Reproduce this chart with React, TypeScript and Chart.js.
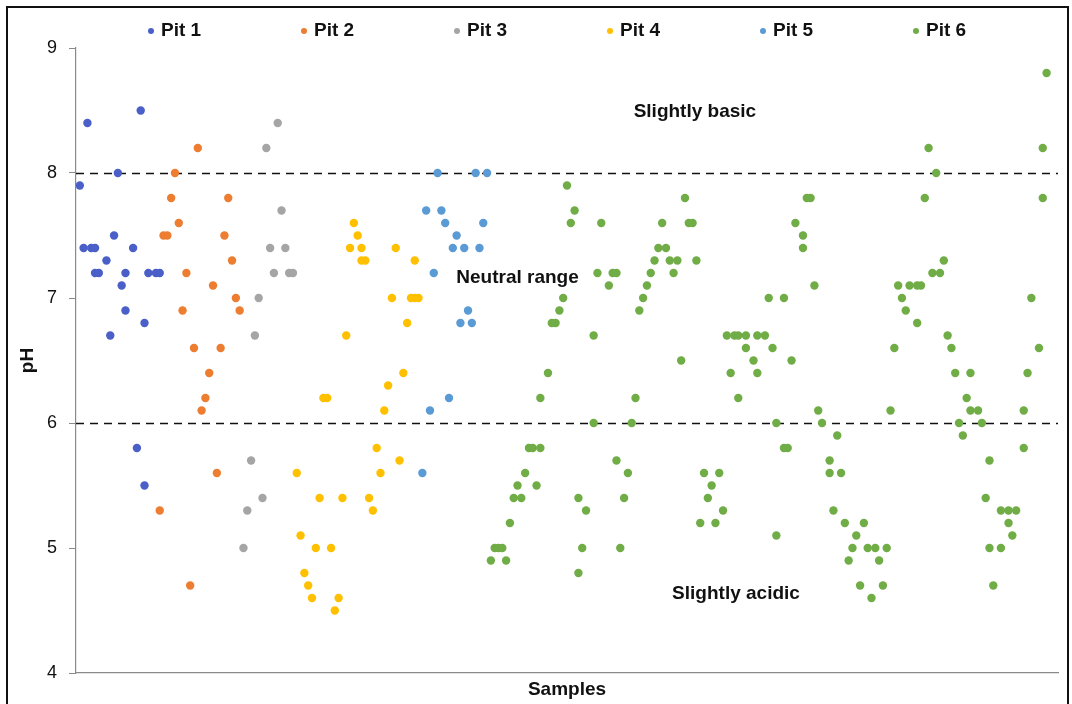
import React, { useEffect, useRef } from "react";
import { Chart, registerables } from "chart.js";

Chart.register(...registerables);

const seriesNames = ["Pit 1", "Pit 2", "Pit 3", "Pit 4", "Pit 5", "Pit 6"];
const seriesColors = ["#4A5FC8", "#ED7D31", "#A5A5A5", "#FFC000", "#5B9BD5", "#70AD47"];

// [sample number, pH]
const pit1: [number, number][] = [
  [1, 7.9], [2, 7.4], [3, 8.4], [4, 7.4], [5, 7.4], [5, 7.2], [6, 7.2], [8, 7.3], [9, 6.7], [10, 7.5],
  [11, 8.0], [12, 7.1], [13, 6.9], [13, 7.2], [15, 7.4], [16, 5.8], [17, 8.5], [18, 5.5], [18, 6.8],
  [19, 7.2], [21, 7.2], [22, 7.2],
];
const pit2: [number, number][] = [
  [22, 5.3], [23, 7.5], [24, 7.5], [25, 7.8], [26, 8.0], [27, 7.6], [28, 6.9], [29, 7.2], [30, 4.7],
  [31, 6.6], [32, 8.2], [33, 6.1], [34, 6.2], [35, 6.4], [36, 7.1], [37, 5.6], [38, 6.6], [39, 7.5],
  [40, 7.8], [41, 7.3], [42, 7.0], [43, 6.9],
];
const pit3: [number, number][] = [
  [44, 5.0], [45, 5.3], [46, 5.7], [47, 6.7], [48, 7.0], [49, 5.4], [50, 8.2], [51, 7.4], [52, 7.2],
  [53, 8.4], [54, 7.7], [55, 7.4], [56, 7.2], [57, 7.2],
];
const pit4: [number, number][] = [
  [58, 5.6], [59, 5.1], [60, 4.8], [61, 4.7], [62, 4.6], [63, 5.0], [64, 5.4], [65, 6.2], [66, 6.2],
  [67, 5.0], [68, 4.5], [69, 4.6], [70, 5.4], [71, 6.7], [72, 7.4], [73, 7.6], [74, 7.5], [75, 7.4],
  [75, 7.3], [76, 7.3], [77, 5.4], [78, 5.3], [79, 5.8], [80, 5.6], [81, 6.1], [82, 6.3], [83, 7.0],
  [84, 7.4], [85, 5.7], [86, 6.4], [87, 6.8], [88, 7.0], [89, 7.3], [89, 7.0], [90, 7.0],
];
const pit5: [number, number][] = [
  [91, 5.6], [92, 7.7], [93, 6.1], [94, 7.2], [95, 8.0], [96, 7.7], [97, 7.6], [98, 6.2], [99, 7.4],
  [100, 7.5], [101, 6.8], [102, 7.4], [103, 6.9], [104, 6.8], [105, 8.0], [106, 7.4], [107, 7.6], [108, 8.0],
];
const pit6: [number, number][] = [
  [109, 4.9], [110, 5.0], [111, 5.0], [112, 5.0], [113, 4.9], [114, 5.2], [115, 5.4], [116, 5.5], [117, 5.4],
  [118, 5.6], [119, 5.8], [120, 5.8], [121, 5.5], [122, 5.8], [122, 6.2], [124, 6.4], [125, 6.8], [126, 6.8],
  [127, 6.9], [128, 7.0], [129, 7.9], [130, 7.6], [131, 7.7], [132, 4.8], [132, 5.4], [133, 5.0], [134, 5.3],
  [136, 6.0], [136, 6.7], [137, 7.2], [138, 7.6], [140, 7.1], [141, 7.2], [142, 7.2], [142, 5.7], [143, 5.0],
  [144, 5.4], [145, 5.6], [146, 6.0], [147, 6.2], [148, 6.9], [149, 7.0], [150, 7.1], [151, 7.2], [152, 7.3],
  [153, 7.4], [154, 7.6], [155, 7.4], [156, 7.3], [157, 7.2], [158, 7.3], [159, 6.5], [160, 7.8], [161, 7.6],
  [162, 7.6], [163, 7.3], [164, 5.2], [165, 5.6], [166, 5.4], [167, 5.5], [168, 5.2], [169, 5.6], [170, 5.3],
  [171, 6.7], [172, 6.4], [173, 6.7], [174, 6.2], [174, 6.7], [176, 6.6], [176, 6.7], [178, 6.5], [179, 6.4],
  [179, 6.7], [181, 6.7], [182, 7.0], [183, 6.6], [184, 5.1], [184, 6.0], [186, 7.0], [186, 5.8], [187, 5.8],
  [188, 6.5], [189, 7.6], [191, 7.5], [191, 7.4], [192, 7.8], [193, 7.8], [194, 7.1], [195, 6.1], [196, 6.0],
  [198, 5.6], [198, 5.7], [199, 5.3], [200, 5.9], [201, 5.6], [202, 5.2], [203, 4.9], [204, 5.0], [205, 5.1],
  [206, 4.7], [207, 5.2], [208, 5.0], [209, 4.6], [210, 5.0], [211, 4.9], [212, 4.7], [213, 5.0], [214, 6.1],
  [215, 6.6], [216, 7.1], [217, 7.0], [218, 6.9], [219, 7.1], [221, 7.1], [221, 6.8], [222, 7.1], [223, 7.8],
  [224, 8.2], [225, 7.2], [226, 8.0], [227, 7.2], [228, 7.3], [229, 6.7], [230, 6.6], [231, 6.4], [232, 6.0],
  [233, 5.9], [234, 6.2], [235, 6.1], [235, 6.4], [237, 6.1], [238, 6.0], [239, 5.4], [240, 5.7], [240, 5.0],
  [241, 4.7], [243, 5.0], [243, 5.3], [245, 5.3], [245, 5.2], [246, 5.1], [247, 5.3], [249, 5.8], [249, 6.1],
  [250, 6.4], [251, 7.0], [253, 6.6], [254, 7.8], [254, 8.2], [255, 8.8],
];
const seriesData = [pit1, pit2, pit3, pit4, pit5, pit6];

const yTickValues = [4, 5, 6, 7, 8, 9];
const thresholds = [8, 6];
const zoneLabels = ["Slightly basic", "Neutral range", "Slightly acidic"];
const zoneSamples = [162.6, 116, 173.4];
const zonePH = [8.49, 7.16, 4.63];

const FONT = "'Liberation Sans', Arial, sans-serif";

const decorPlugin = {
  id: "decor",
  beforeDraw(chart: any) {
    const { ctx, width, height } = chart;
    ctx.save();
    ctx.fillStyle = "#ffffff";
    ctx.fillRect(0, 0, width, height);
    ctx.restore();
  },
  beforeDatasetsDraw(chart: any) {
    const { ctx, chartArea, scales } = chart;
    ctx.save();
    ctx.strokeStyle = "#111111";
    ctx.lineWidth = 1.6;
    ctx.setLineDash([8, 6]);
    thresholds.forEach((v) => {
      const y = Math.round(scales.y.getPixelForValue(v)) + 0.5;
      ctx.beginPath();
      ctx.moveTo(chartArea.left, y);
      ctx.lineTo(chartArea.right, y);
      ctx.stroke();
    });
    ctx.restore();
  },
  afterDraw(chart: any) {
    const { ctx, scales } = chart;
    ctx.save();
    // zone labels
    ctx.fillStyle = "#111111";
    ctx.font = `bold 19px ${FONT}`;
    ctx.textAlign = "center";
    ctx.textBaseline = "middle";
    zoneLabels.forEach((t, i) => {
      ctx.fillText(t, scales.x.getPixelForValue(zoneSamples[i]), scales.y.getPixelForValue(zonePH[i]));
    });
    // legend
    ctx.textAlign = "left";
    chart.data.datasets.forEach((ds: any, i: number) => {
      const mx = 151 + i * 153;
      ctx.fillStyle = ds.backgroundColor;
      ctx.beginPath();
      ctx.arc(mx, 31, 3, 0, Math.PI * 2);
      ctx.fill();
      ctx.fillStyle = "#111111";
      ctx.fillText(ds.label, mx + 10, 31);
    });
    // frame
    ctx.strokeStyle = "#111111";
    ctx.lineWidth = 2;
    ctx.strokeRect(7, 7, 1061, 720);
    ctx.restore();
  },
};

export default function App() {
  const ref = useRef<HTMLCanvasElement | null>(null);
  useEffect(() => {
    if (!ref.current) return;
    const chart = new Chart(ref.current, {
      type: "scatter",
      data: {
        datasets: seriesData.map((pts, i) => ({
          label: seriesNames[i],
          data: pts.map(([x, y]) => ({ x, y })),
          backgroundColor: seriesColors[i],
          borderColor: seriesColors[i],
          borderWidth: 0,
          pointRadius: 4.2,
          pointHoverRadius: 4.2,
        })),
      },
      options: {
        responsive: false,
        animation: false,
        events: [],
        layout: { padding: { top: 48, right: 14, left: 0, bottom: 0 } },
        plugins: {
          legend: { display: false },
          tooltip: { enabled: false },
        },
        scales: {
          x: {
            type: "linear",
            min: 0,
            max: 258,
            ticks: { display: false },
            grid: { display: true, drawOnChartArea: false, drawTicks: false },
            border: { display: true, color: "#8a8a8a", width: 1.2 },
            title: {
              display: true,
              text: "Samples",
              color: "#111111",
              font: { family: FONT, size: 19, weight: "bold" },
              padding: { top: 0, bottom: 3 },
            },
            afterFit: (s: any) => {
              s.height = 31;
            },
          },
          y: {
            type: "linear",
            min: 4,
            max: 9,
            afterBuildTicks: (s: any) => {
              s.ticks = yTickValues.map((v) => ({ value: v }));
            },
            ticks: {
              color: "#111111",
              font: { family: FONT, size: 18 },
              padding: 12,
            },
            grid: { display: true, drawOnChartArea: false, drawTicks: true, tickLength: 7, color: "#8a8a8a" },
            border: { display: true, color: "#8a8a8a", width: 1.2 },
            title: {
              display: true,
              text: "pH",
              color: "#111111",
              font: { family: FONT, size: 19, weight: "bold" },
              padding: { top: 16, bottom: 0 },
            },
            afterFit: (s: any) => {
              s.width = 76;
            },
          },
        },
      },
      plugins: [decorPlugin],
    } as any);
    return () => chart.destroy();
  }, []);
  return (
    <div style={{ position: "absolute", left: 0, top: 0, width: 1072, height: 704, background: "#fff" }}>
      <canvas ref={ref} width={1072} height={704} style={{ display: "block" }} />
    </div>
  );
}
